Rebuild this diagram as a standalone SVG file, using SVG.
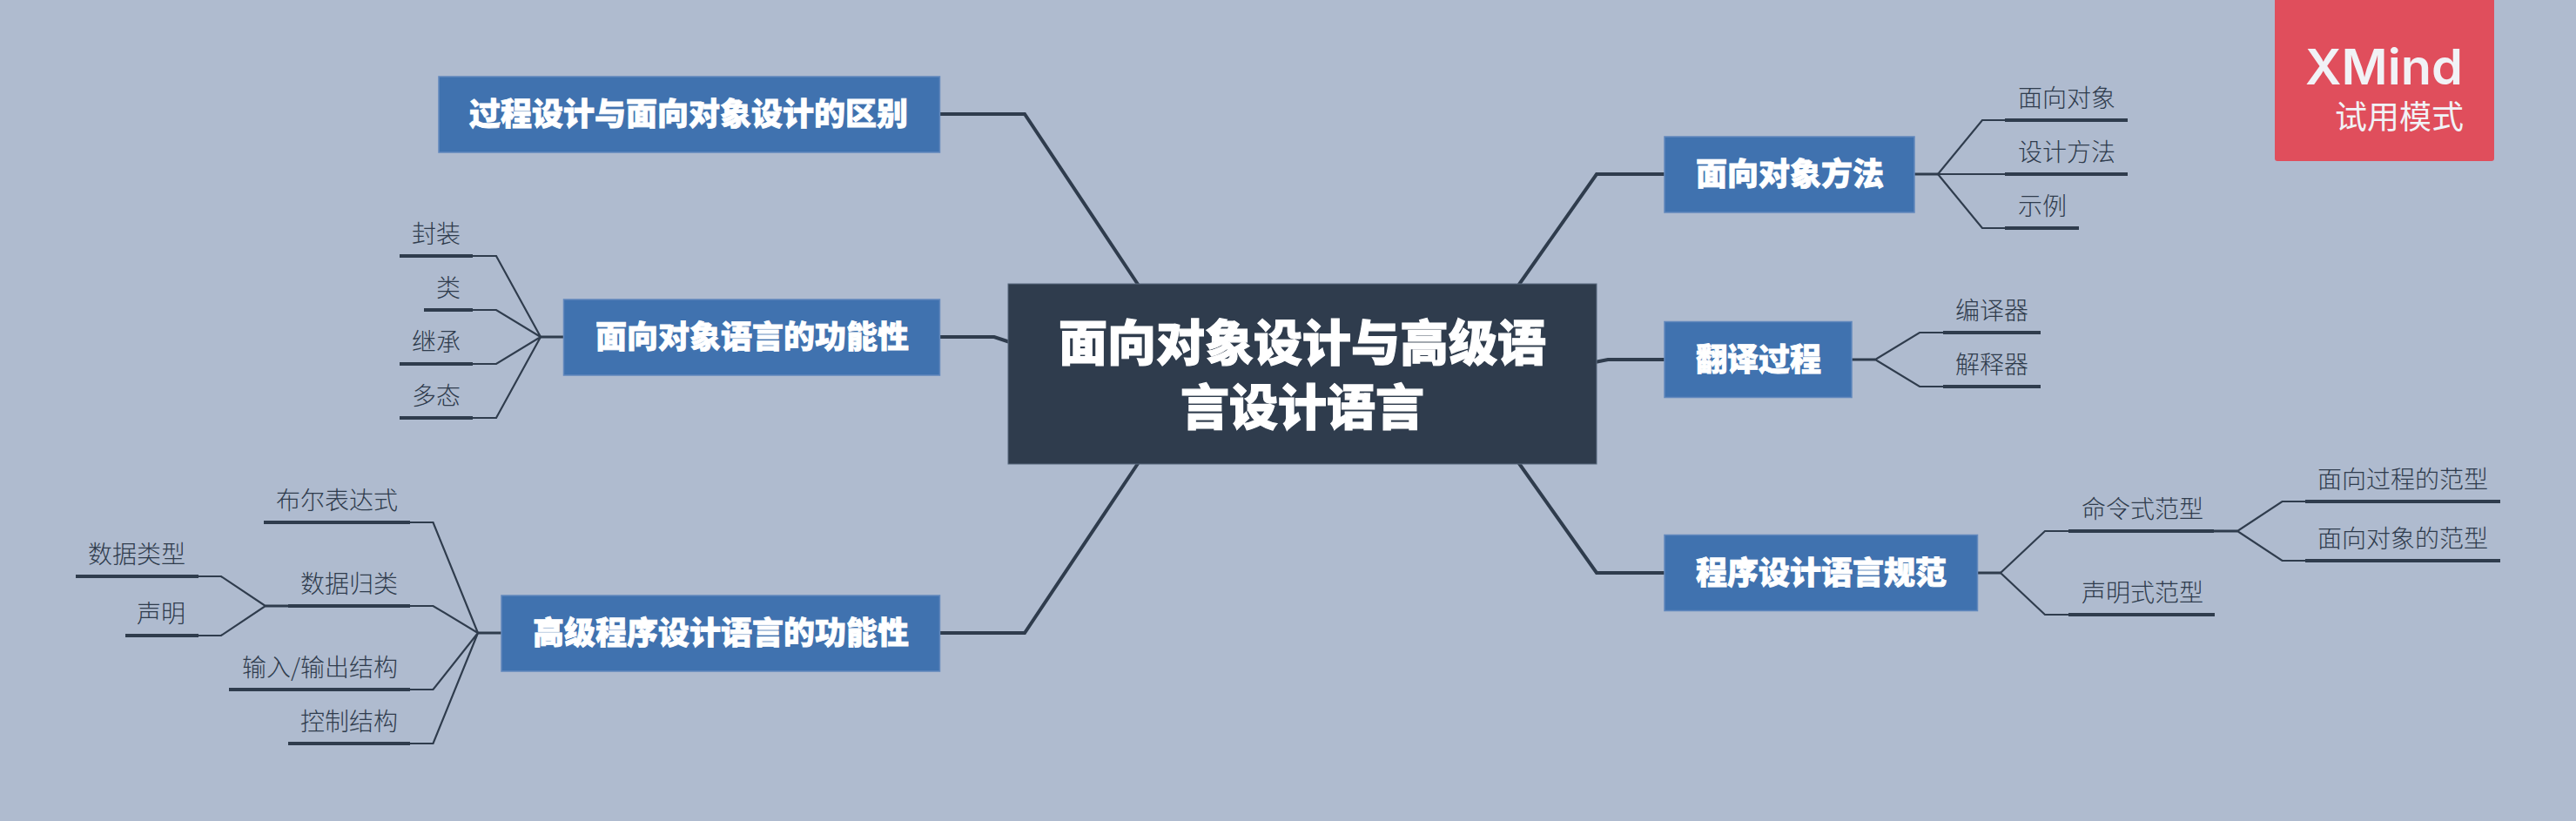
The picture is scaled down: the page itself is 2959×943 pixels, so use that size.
<svg xmlns="http://www.w3.org/2000/svg" width="2959" height="943" viewBox="0 0 2959 943">
<style>
text{font-family:"Noto Sans CJK SC","Noto Sans",sans-serif}
.bg{fill:#AFBBCF}
.main{fill:#2F3C4D;stroke:#5A6B80;stroke-width:1}
.topic{fill:#4072AF;stroke:#6288BD;stroke-width:1.5}
.mt{fill:#fff;stroke:#fff;stroke-width:1.2;font-size:56px;font-weight:900;text-anchor:middle}
.tt{fill:#fff;stroke:#fff;stroke-width:.8;font-size:36px;font-weight:900;text-anchor:middle}
.st{fill:#2F3C4D;font-size:28px;font-weight:300}
.r{text-anchor:end}
.ul{fill:none;stroke:#2F3C4D;stroke-width:4}
.c1{fill:none;stroke:#2F3C4D;stroke-width:4;stroke-linejoin:miter}
.c2{fill:none;stroke:#2F3C4D;stroke-width:2.2;stroke-linejoin:miter}
.c3{fill:none;stroke:#2F3C4D;stroke-width:3.2}
</style>
<rect class="bg" width="2959" height="943"/>
<g id="connectors">
<path class="c1" d="M1079 131H1177L1308 328"/>
<path class="c1" d="M1079 387H1142L1160 393"/>
<path class="c1" d="M1079 727H1177L1308 531"/>
<path class="c1" d="M1744 328L1834 200H1912"/>
<path class="c1" d="M1832 416L1847 413H1912"/>
<path class="c1" d="M1744 531L1834 658H1912"/>
<path class="c3" d="M2199 200H2226M2127 413H2154M2271 658H2298M2543 610H2570M647 387H621M576 727H549M331 696H305"/>
<path class="c2" d="M2303 138H2277L2226 200L2277 262H2303M2226 200H2303"/>
<path class="c2" d="M2232 382H2205L2154 413L2205 444H2232"/>
<path class="c2" d="M2376 610H2349L2298 658L2349 706H2376"/>
<path class="c2" d="M2648 576H2621.5L2570 610L2621.5 644H2648"/>
<path class="c2" d="M543 294H570L621 387L570 480H543M543 356H570L621 387L570 418H543"/>
<path class="c2" d="M471 600H497.500L549 727L497.500 854H471M471 696H497.500L549 727L497.500 792H471"/>
<path class="c2" d="M228 662H254L305 696L254 730H228"/>
</g>
<g id="central"><rect class="main" x="1158" y="326" width="676" height="207"/>
<text class="mt" x="1496" y="414">面向对象设计与高级语</text><text class="mt" x="1496" y="488">言设计语言</text></g>
<g id="t-diff"><rect class="topic" x="504" y="88" width="575.500" height="87"/><text class="tt" x="791" y="144">过程设计与面向对象设计的区别</text></g>
<g id="t-oolang"><rect class="topic" x="647.500" y="344" width="432" height="87"/><text class="tt" x="864" y="400">面向对象语言的功能性</text></g>
<g id="t-hll"><rect class="topic" x="576" y="684" width="503.500" height="87"/><text class="tt" x="828" y="740">高级程序设计语言的功能性</text></g>
<g id="t-oomethod"><rect class="topic" x="1912" y="157" width="287" height="87"/><text class="tt" x="2056" y="213">面向对象方法</text></g>
<g id="t-trans"><rect class="topic" x="1912" y="369.500" width="215" height="87"/><text class="tt" x="2020" y="426">翻译过程</text></g>
<g id="t-spec"><rect class="topic" x="1912" y="614.500" width="359.500" height="87"/><text class="tt" x="2092" y="671">程序设计语言规范</text></g>
<g id="s-mxdx"><path class="ul" d="M2303 138H2444"/><text class="st" x="2318" y="123">面向对象</text></g>
<g id="s-sjff"><path class="ul" d="M2303 200H2444"/><text class="st" x="2318" y="185">设计方法</text></g>
<g id="s-sl"><path class="ul" d="M2303 262H2388"/><text class="st" x="2318" y="247">示例</text></g>
<g id="s-byq"><path class="ul" d="M2232 382H2344"/><text class="st" x="2246" y="367">编译器</text></g>
<g id="s-jsq"><path class="ul" d="M2232 444H2344"/><text class="st" x="2246" y="429">解释器</text></g>
<g id="s-mlsfx"><path class="ul" d="M2376 610H2543"/><text class="st" x="2391" y="595">命令式范型</text></g>
<g id="s-smsfx"><path class="ul" d="M2376 706H2544"/><text class="st" x="2391" y="691">声明式范型</text></g>
<g id="s-mxgc"><path class="ul" d="M2648 576H2872"/><text class="st" x="2662" y="561">面向过程的范型</text></g>
<g id="s-mxdxfx"><path class="ul" d="M2648 644H2872"/><text class="st" x="2662" y="629">面向对象的范型</text></g>
<g id="s-fz"><path class="ul" d="M459 294H543"/><text class="st r" x="529" y="279">封装</text></g>
<g id="s-lei"><path class="ul" d="M487 356H543"/><text class="st r" x="529" y="341">类</text></g>
<g id="s-jc"><path class="ul" d="M459 418H543"/><text class="st r" x="529" y="403">继承</text></g>
<g id="s-dt"><path class="ul" d="M459 480H543"/><text class="st r" x="529" y="465">多态</text></g>
<g id="s-be"><path class="ul" d="M303 600H471"/><text class="st r" x="457" y="585">布尔表达式</text></g>
<g id="s-sjgl"><path class="ul" d="M331 696H471"/><text class="st r" x="457" y="681">数据归类</text></g>
<g id="s-io"><path class="ul" d="M263 792H471"/><text class="st r" x="457" y="777">输入/输出结构</text></g>
<g id="s-kz"><path class="ul" d="M331 854H471"/><text class="st r" x="457" y="839">控制结构</text></g>
<g id="s-sjlx"><path class="ul" d="M87 662H228"/><text class="st r" x="213" y="647">数据类型</text></g>
<g id="s-sm"><path class="ul" d="M144 730H228"/><text class="st r" x="213" y="715">声明</text></g>
<g id="watermark"><rect x="2613" y="-4" width="252" height="189" rx="3" fill="#E04E5C"/>
<text x="2648" y="97" fill="#F1F2F6" font-size="56" font-weight="600" style="font-family:Inter,Lato,sans-serif" textLength="181" lengthAdjust="spacingAndGlyphs">XMind</text>
<text x="2830" y="148" text-anchor="end" fill="#F1F2F6" font-size="37">试用模式</text></g>
</svg>
